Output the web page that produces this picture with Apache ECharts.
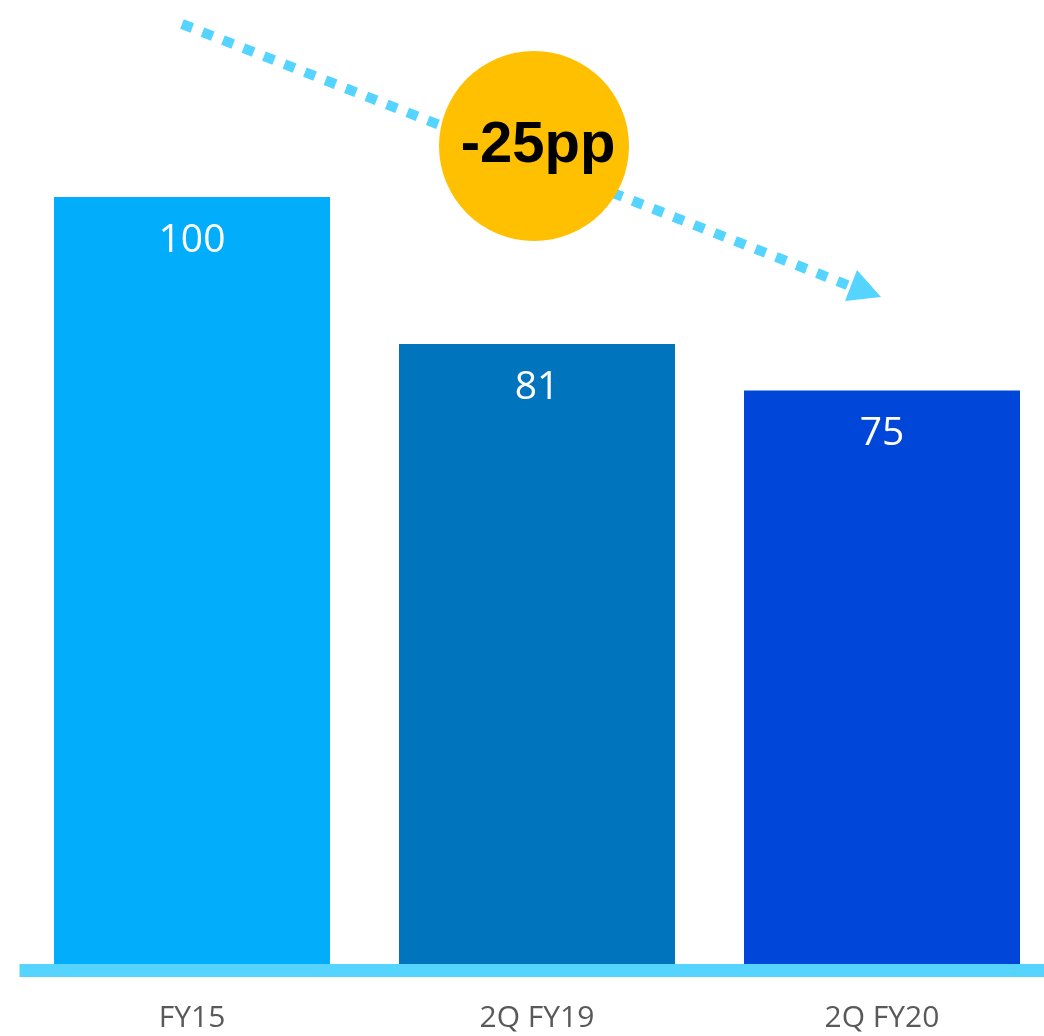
<!DOCTYPE html>
<html>
<head>
<meta charset="utf-8">
<script src="https://cdn.jsdelivr.net/npm/echarts@6/dist/echarts.min.js"></script>
<style>
html,body{margin:0;padding:0;background:#fff;}
#chart{width:1044px;height:1036px;}
</style>
</head>
<body>
<div id="chart"></div>
<script>
var categories = ['FY15', '2Q FY19', '2Q FY20'];
var values = [100, 81, 75];
var barColors = ['#02AEFB', '#0074BD', '#0046D9'];
var badgeText = '-25pp';

var chart = echarts.init(document.getElementById('chart'), null, {renderer: 'canvas'});

var option = {
  backgroundColor: '#ffffff',
  animation: false,
  grid: {left: 19.5, width: 1035, top: 197, bottom: 65.5, containLabel: false, outerBoundsMode: 'none'},
  xAxis: {
    type: 'category',
    data: categories,
    z: 10,
    axisLine: {show: true, lineStyle: {color: '#55D4FF', width: 13, cap: 'butt'}},
    axisTick: {show: false},
    axisLabel: {
      color: '#595959',
      fontFamily: 'Open Sans',
      fontSize: 30,
      margin: 33
    }
  },
  yAxis: {
    type: 'value',
    min: 0,
    max: 100,
    show: false,
    splitLine: {show: false}
  },
  series: [{
    type: 'bar',
    barWidth: 276,
    data: values.map(function (v, i) {
      return {value: v, itemStyle: {color: barColors[i]}};
    }),
    label: {
      show: true,
      position: 'insideTop',
      distance: 24,
      color: '#ffffff',
      fontFamily: 'Open Sans',
      fontSize: 39
    }
  }],
  graphic: [
    {
      type: 'line',
      z: 20,
      shape: {x1: 182, y1: 24, x2: 850, y2: 286},
      style: {stroke: '#55D4FF', lineWidth: 10, lineDash: [11, 11], lineCap: 'butt'}
    },
    {
      type: 'polygon',
      z: 20,
      shape: {points: [[845, 301], [857, 270], [881, 297]]},
      style: {fill: '#55D4FF'}
    },
    {
      type: 'circle',
      z: 30,
      shape: {cx: 534, cy: 146, r: 95},
      style: {fill: '#FEC000'}
    },
    {
      type: 'text',
      z: 31,
      x: 538,
      y: 146,
      style: {
        text: badgeText,
        fill: '#000000',
        font: 'bold 58px "Liberation Sans"',
        align: 'center',
        verticalAlign: 'middle'
      }
    }
  ]
};
chart.setOption(option);
</script>
</body>
</html>
